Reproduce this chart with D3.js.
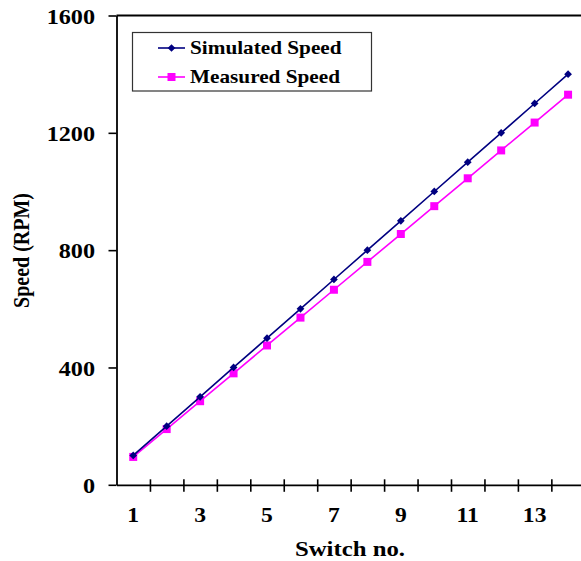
<!DOCTYPE html>
<html>
<head>
<meta charset="utf-8">
<script src="https://cdn.jsdelivr.net/npm/d3@7"></script>
</head>
<body style="margin:0; background:#fff">
<svg id="chart" width="581" height="561"></svg>
<script>
// data
const switchNo = [1, 2, 3, 4, 5, 6, 7, 8, 9, 10, 11, 12, 13, 14];
const simulatedSpeed = [100, 200, 300, 400, 500, 600, 700, 800, 900, 1000, 1100, 1200, 1300, 1400];
const measuredSpeed = [95, 190, 285, 380, 475, 570, 665, 760, 855, 950, 1045, 1140, 1235, 1330];
const xLabels = [1, 3, 5, 7, 9, 11, 13];
const yTicks = [0, 400, 800, 1200, 1600];

// the original picture is stretched sideways a bit, so text gets the same stretch
const stretch = 1.18;
const serif = "'Liberation Serif', 'Times New Roman', serif";

// square-ish diamond like the Excel marker (d3's own is tall and narrow)
const excelDiamond = {
  draw(context, size) {
    const r = Math.sqrt(size / 2);
    context.moveTo(0, -r);
    context.lineTo(r, 0);
    context.lineTo(0, r);
    context.lineTo(-r, 0);
    context.closePath();
  }
};

const svg = d3.select("#chart");
const plotLeft = 116.5, plotRight = 584.8, plotTop = 15.5, plotBottom = 484.8;

const x = d3.scaleLinear().domain([0.5, 14.5]).range([plotLeft, plotRight]);
const y = d3.scaleLinear().domain([0, 1600]).range([plotBottom, plotTop]);

// top border of the plot area
svg.append("line")
  .attr("x1", plotLeft).attr("x2", 590)
  .attr("y1", y(1600)).attr("y2", y(1600))
  .attr("stroke", "#000").attr("stroke-width", 1.8);

// y axis
const yAxis = svg.append("g")
  .attr("transform", `translate(${plotLeft},0)`)
  .call(d3.axisLeft(y).tickValues(yTicks).tickFormat(d3.format("d")).tickSize(8).tickSizeOuter(0));
yAxis.select(".domain").attr("stroke-width", 1.8);
yAxis.selectAll(".tick line").attr("stroke-width", 1.6);
yAxis.selectAll(".tick text")
  .attr("x", 0).attr("dy", "0.38em")
  .attr("transform", `translate(-21.5,0) scale(${stretch},1)`)
  .attr("font-family", serif)
  .attr("font-weight", "bold")
  .attr("font-size", 20.5);

// x axis: ticks sit between the switch categories and cross the line
const xAxis = svg.append("g")
  .attr("transform", `translate(0,${plotBottom})`)
  .call(d3.axisBottom(x).tickValues(d3.range(1.5, 14, 1)).tickFormat("").tickSizeOuter(0));
xAxis.select(".domain").attr("stroke-width", 1.8);
xAxis.selectAll(".tick line").attr("y1", -5.5).attr("y2", 7).attr("stroke-width", 1.6);

svg.append("g").selectAll("text")
  .data(xLabels)
  .join("text")
  .attr("text-anchor", "middle")
  .attr("transform", d => `translate(${x(d)},521.5) scale(${stretch},1)`)
  .attr("font-family", serif)
  .attr("font-weight", "bold")
  .attr("font-size", 20)
  .text(d => d);

// axis titles
svg.append("text")
  .attr("text-anchor", "middle")
  .attr("transform", `translate(350,556) scale(${stretch},1)`)
  .attr("font-family", serif)
  .attr("font-weight", "bold")
  .attr("font-size", 21)
  .text("Switch no.");

svg.append("text")
  .attr("text-anchor", "middle")
  .attr("transform", `translate(29,250.5) scale(${stretch},1) rotate(-90)`)
  .attr("font-family", serif)
  .attr("font-weight", "bold")
  .attr("font-size", 20)
  .text("Speed (RPM)");

// series
const series = [
  { name: "Simulated Speed", values: simulatedSpeed, color: "#000080", shape: excelDiamond, size: 30 },
  { name: "Measured Speed", values: measuredSpeed, color: "#ff00ff", shape: d3.symbolSquare, size: 64 }
];

const line = d3.line()
  .x((d, i) => x(switchNo[i]))
  .y(d => y(d));

// draw measured first so simulated sits on top
series.slice().reverse().forEach(s => {
  svg.append("path")
    .datum(s.values)
    .attr("fill", "none")
    .attr("stroke", s.color)
    .attr("stroke-width", 1.6)
    .attr("d", line);

  svg.append("g").selectAll("path")
    .data(s.values)
    .join("path")
    .attr("transform", (d, i) => `translate(${x(switchNo[i])},${y(d)})`)
    .attr("d", d3.symbol().type(s.shape).size(s.size))
    .attr("fill", s.color);
});

// legend
const legend = svg.append("g");
legend.append("rect")
  .attr("x", 132.5).attr("y", 32.5)
  .attr("width", 239).attr("height", 58.5)
  .attr("fill", "#fff")
  .attr("stroke", "#333").attr("stroke-width", 1.2);

const rows = legend.selectAll("g")
  .data(series)
  .join("g")
  .attr("transform", (d, i) => `translate(0,${48 + i * 29})`);

rows.append("line")
  .attr("x1", 158).attr("x2", 185)
  .attr("stroke", d => d.color).attr("stroke-width", 1.6);
rows.append("path")
  .attr("transform", "translate(171.5,0)")
  .attr("d", d => d3.symbol().type(d.shape).size(d.size)())
  .attr("fill", d => d.color);
rows.append("text")
  .attr("transform", `translate(190,6) scale(${stretch},1)`)
  .attr("font-family", serif)
  .attr("font-weight", "bold")
  .attr("font-size", 18)
  .text(d => d.name);
</script>
</body>
</html>
